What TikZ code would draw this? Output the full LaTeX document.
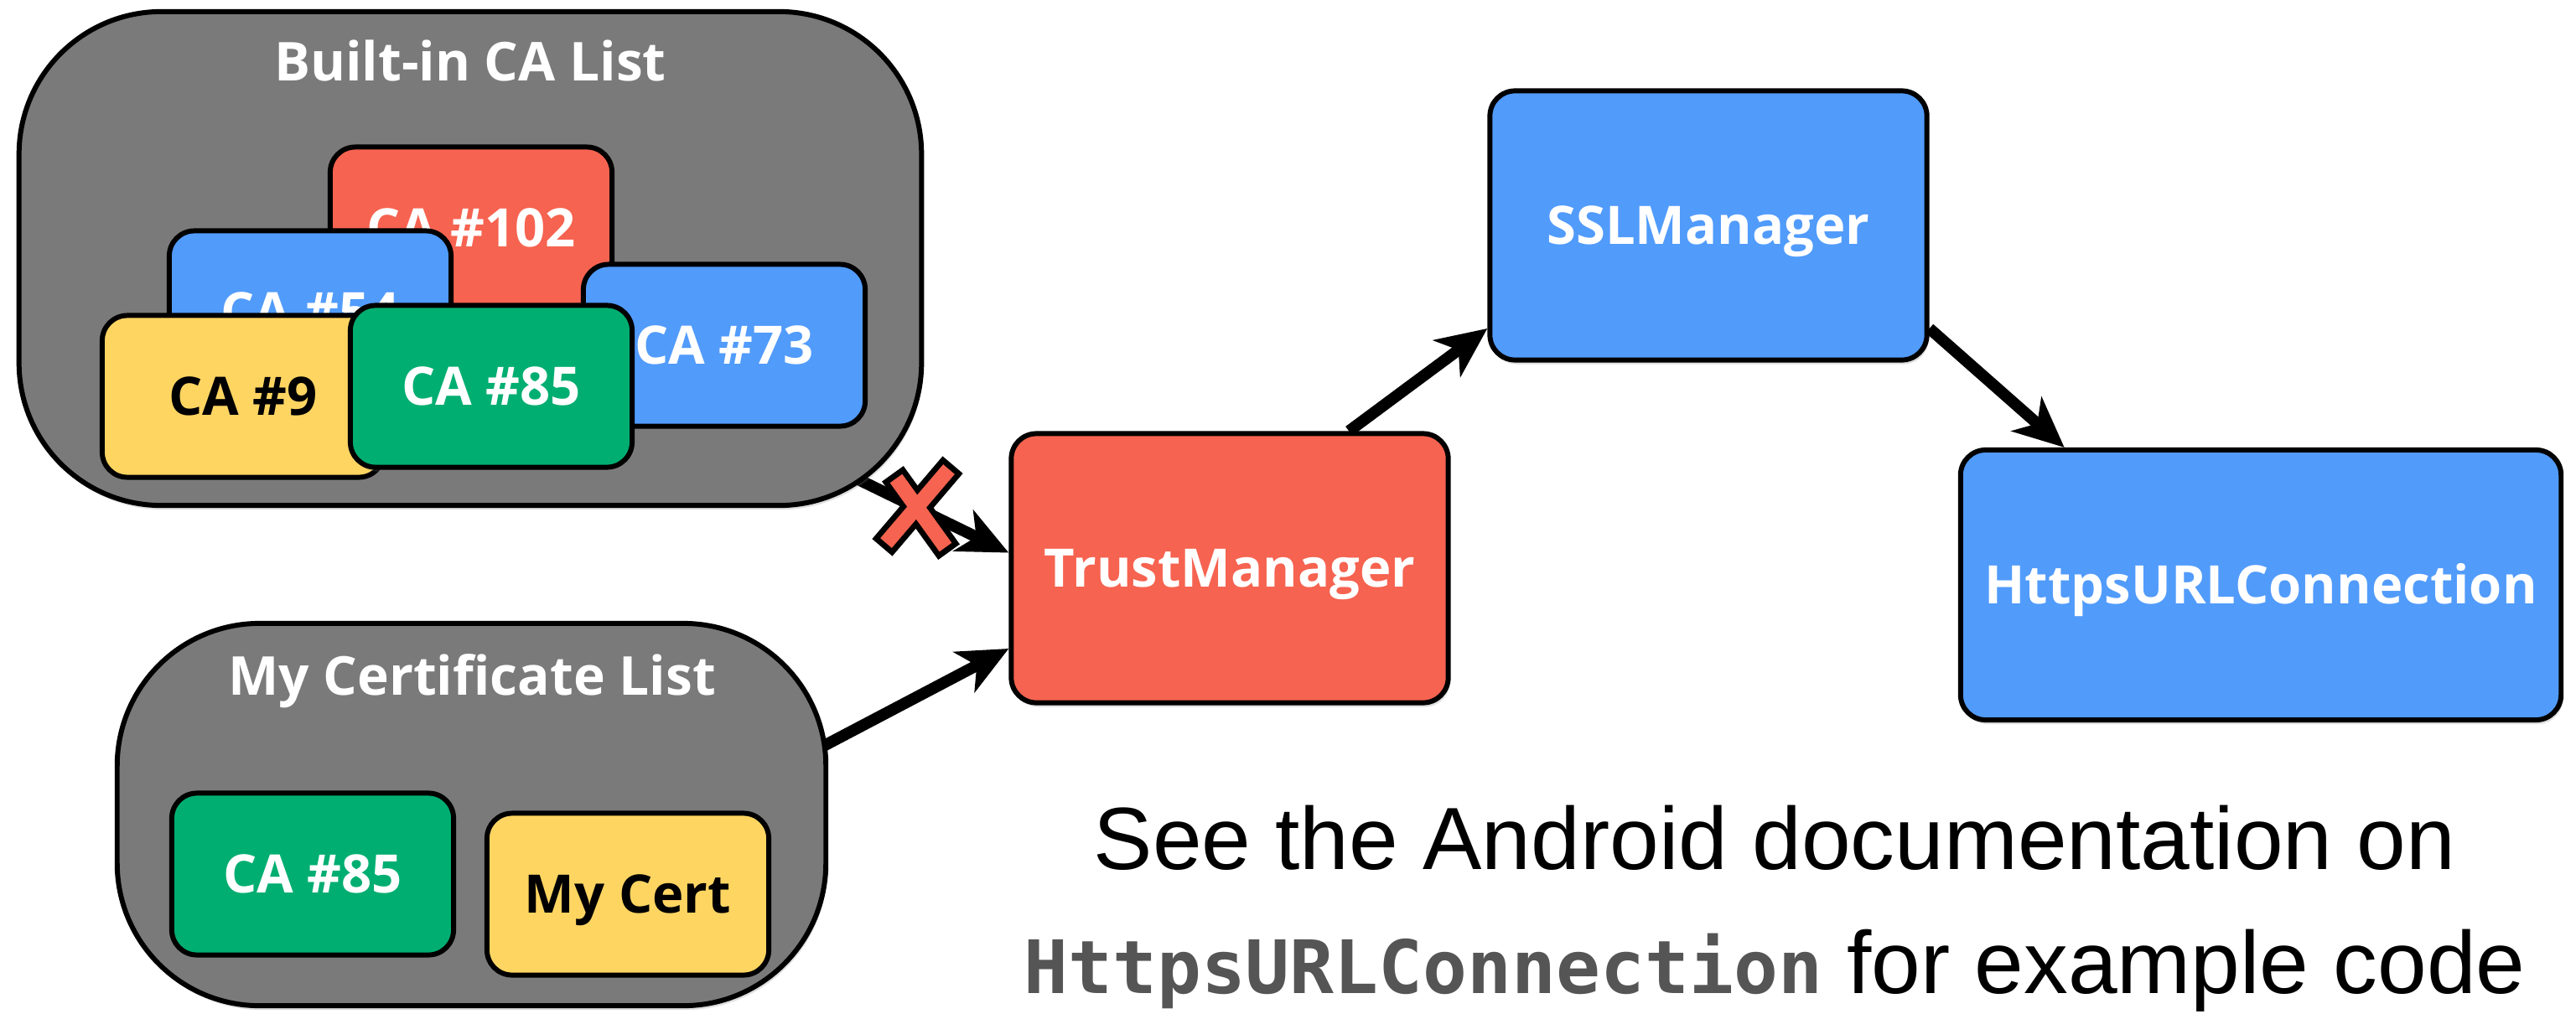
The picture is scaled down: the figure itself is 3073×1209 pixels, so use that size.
\documentclass[tikz,border=0pt]{standalone}
\usepackage{fontspec}
\setmainfont{Open Sans}
\newfontfamily\notefont{Liberation Sans}
\newfontfamily\codefont{DejaVu Sans Mono}
\usetikzlibrary{arrows.meta,shadows,backgrounds,calc}

\definecolor{listgray}{HTML}{7A7A7A}
\definecolor{certred}{HTML}{F66350}
\definecolor{certblue}{HTML}{519BFB}
\definecolor{certgreen}{HTML}{00AE72}
\definecolor{certyellow}{HTML}{FFD562}
\definecolor{codegray}{HTML}{555555}

\tikzset{
  softshadow/.style={drop shadow={shadow xshift=0.02cm, shadow yshift=-0.05cm, opacity=0.25}},
  box/.style={draw=black, line width=1.7pt, rounded corners=0.3cm, softshadow,
    font=\fontsize{18}{20}\selectfont\bfseries, text=white,
    text height=0.45cm, text depth=0pt, inner sep=0pt},
  cabox/.style={box, minimum width=3.36cm, minimum height=1.93cm},
  bigbox/.style={box, minimum width=5.21cm, minimum height=3.21cm},
  listbox/.style={draw=black, line width=1.7pt, fill=listgray, rounded corners=1.7cm, softshadow},
  listtitle/.style={font=\fontsize{18.2}{20}\selectfont\bfseries, text=white, anchor=base, inner sep=0pt},
  note/.style={font=\notefont\fontsize{30}{36}\selectfont, anchor=base, inner sep=0pt},
  arr/.style={line width=3.9pt, -{Stealth[length=0.6cm,width=0.54cm,inset=0.17cm]}},
  xout/.style={line width=9pt, black, shorten <=-0.07cm, shorten >=-0.07cm},
  xin/.style={line width=5.1pt, certred},
}

\begin{document}
\begin{tikzpicture}[x=0.01cm, y=-0.01cm]
  \useasboundingbox (0,0) rectangle (3073,1209);

  % certificate stores
  \node[listbox, minimum width=10.76cm, minimum height=5.89cm] (builtin) at (561,308.5) {};
  \node[listtitle] (builtintitle) at (561,97) {Built-in CA List};
  \node[cabox, fill=certred]    (ca102) at (562,272) {CA \#102};
  \node[cabox, fill=certblue]   (ca54)  at (370,372) {CA \#54};
  \node[cabox, fill=certblue]   (ca73)  at (864,412) {CA \#73};
  \node[cabox, fill=certyellow, text=black] (ca9) at (290,473) {CA \#9};
  \node[cabox, fill=certgreen]  (ca85)  at (586,461) {CA \#85};

  \node[listbox, minimum width=8.45cm, minimum height=4.56cm] (mylist) at (562.5,972) {};
  \node[listtitle] (mylisttitle) at (563,829) {My Certificate List};
  \node[cabox, fill=certgreen]  (myca85) at (373,1043) {CA \#85};
  \node[cabox, fill=certyellow, text=black] (mycert) at (749,1067) {My Cert};

  % manager chain
  \node[bigbox, fill=certred]  (tm)    at (1467,678) {TrustManager};
  \node[bigbox, fill=certblue] (ssl)   at (2038,269) {SSLManager};
  \node[bigbox, fill=certblue, minimum width=7.16cm, minimum height=3.22cm] (https) at (2697,698) {HttpsURLConnection};

  % connectors, kept behind the boxes
  \begin{scope}[on background layer]
    \draw[arr] ($(builtin.south east)+(-257,-121)$) -- (tm.176);
    \draw[arr] ($(mylist.east)+(-131,-16)$) -- (tm.200);
    \draw[arr] (tm.49) -- (ssl.205);
    \draw[arr] (ssl.335.5) -- (https.145.4);
  \end{scope}

  % rejection mark on the built-in list connector
  \coordinate (xa1) at (1132,560);
  \coordinate (xa2) at (1057,648);
  \coordinate (xb1) at (1069,571);
  \coordinate (xb2) at (1128,653);
  \draw[xout] (xa1) -- (xa2);
  \draw[xout] (xb1) -- (xb2);
  \draw[xin] (xa1) -- (xa2);
  \draw[xin] (xb1) -- (xb2);

  % footnote
  \node[note] (note1) at (2117,1037) {See the Android documentation on};
  \node[note] (note2) at (2117,1185) {{\codefont\bfseries\color{codegray}\fontsize{25}{30}\selectfont HttpsURLConnection} for example code};
\end{tikzpicture}
\end{document}
